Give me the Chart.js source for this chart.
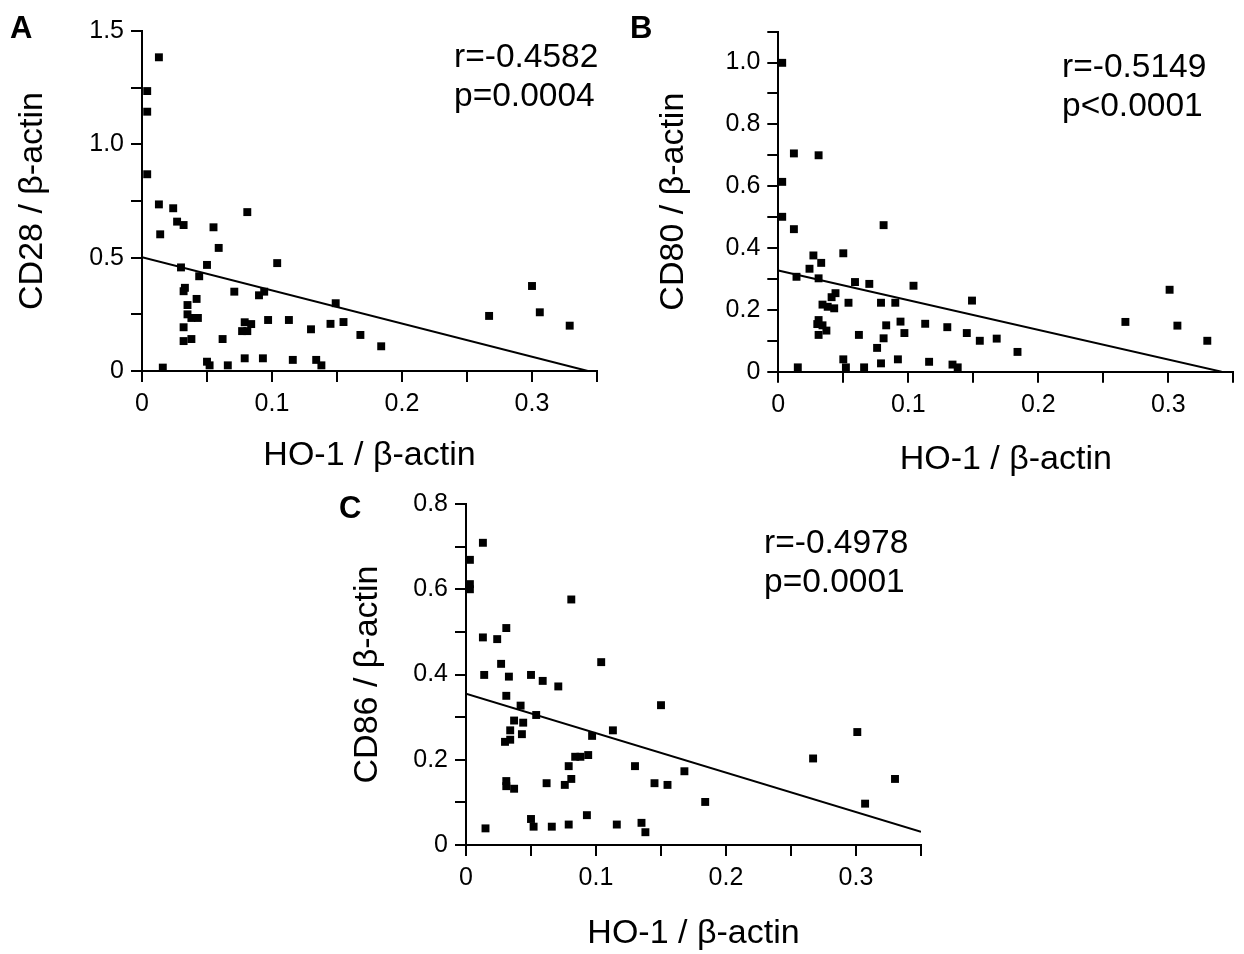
<!DOCTYPE html>
<html>
<head>
<meta charset="utf-8">
<script src="https://cdn.jsdelivr.net/npm/chart.js@4.4.0/dist/chart.umd.min.js"></script>
<style>
  body { margin: 0; background: #fff; width: 1244px; height: 954px; position: relative; overflow: hidden;
         font-family: "Liberation Sans", Arial, sans-serif; color: #000; }
  .panel { position: absolute; }
  .panel canvas { display: block; }
  .lbl { position: absolute; font-weight: bold; font-size: 31px; line-height: 32px; }
  .stat { position: absolute; font-size: 33.5px; line-height: 39px; white-space: nowrap; }
</style>
</head>
<body>
<div class="panel" style="left:0;top:0"><canvas id="chartA" width="620" height="480"></canvas></div>
<div class="panel" style="left:630px;top:0"><canvas id="chartB" width="614" height="480"></canvas></div>
<div class="panel" style="left:330px;top:480px"><canvas id="chartC" width="614" height="474"></canvas></div>

<div class="lbl" style="left:10px;top:12px">A</div>
<div class="lbl" style="left:630px;top:12px">B</div>
<div class="lbl" style="left:339px;top:492px">C</div>

<div class="stat" style="left:454px;top:36px">r=-0.4582<br>p=0.0004</div>
<div class="stat" style="left:1062px;top:46px">r=-0.5149<br>p&lt;0.0001</div>
<div class="stat" style="left:764px;top:522px">r=-0.4978<br>p=0.0001</div>

<script>
// ---- data ----
const aX = [0.013, 0.004, 0.004, 0.004, 0.013, 0.024, 0.081, 0.027, 0.032, 0.014, 0.055, 0.059, 0.104, 0.030,
            0.050, 0.044, 0.071, 0.090, 0.094, 0.033, 0.032, 0.042, 0.035, 0.035, 0.038, 0.043, 0.032, 0.032,
            0.038, 0.062, 0.079, 0.084, 0.077, 0.081, 0.097, 0.113, 0.130, 0.145, 0.016, 0.050, 0.052, 0.066,
            0.079, 0.093, 0.116, 0.134, 0.138, 0.149, 0.155, 0.168, 0.184, 0.267, 0.300, 0.306, 0.329];
const aY = [1.384, 1.235, 1.144, 0.868, 0.735, 0.718, 0.701, 0.659, 0.644, 0.603, 0.634, 0.543, 0.476, 0.457,
            0.468, 0.418, 0.350, 0.334, 0.350, 0.367, 0.352, 0.318, 0.291, 0.250, 0.234, 0.234, 0.193, 0.132,
            0.141, 0.141, 0.215, 0.207, 0.176, 0.176, 0.225, 0.225, 0.184, 0.208, 0.015, 0.041, 0.025, 0.025,
            0.056, 0.056, 0.049, 0.049, 0.025, 0.299, 0.216, 0.159, 0.109, 0.243, 0.375, 0.259, 0.200];

const bX = [0.003, 0.012, 0.031, 0.003, 0.003, 0.012, 0.081, 0.027, 0.033, 0.050, 0.024, 0.014, 0.031, 0.059,
            0.070, 0.104, 0.044, 0.041, 0.054, 0.079, 0.090, 0.034, 0.038, 0.043, 0.149, 0.031, 0.030, 0.034,
            0.037, 0.031, 0.094, 0.083, 0.113, 0.130, 0.097, 0.145, 0.062, 0.081, 0.076, 0.050, 0.092, 0.079,
            0.116, 0.134, 0.138, 0.015, 0.052, 0.066, 0.155, 0.168, 0.184, 0.267, 0.301, 0.307, 0.330];
const bY = [0.999, 0.706, 0.700, 0.614, 0.501, 0.461, 0.474, 0.376, 0.352, 0.383, 0.333, 0.307, 0.302, 0.290,
            0.284, 0.278, 0.254, 0.241, 0.223, 0.223, 0.223, 0.217, 0.210, 0.205, 0.230, 0.167, 0.154, 0.150,
            0.133, 0.119, 0.162, 0.150, 0.155, 0.144, 0.125, 0.125, 0.119, 0.108, 0.077, 0.040, 0.040, 0.027,
            0.032, 0.023, 0.014, 0.014, 0.014, 0.014, 0.100, 0.107, 0.064, 0.161, 0.265, 0.149, 0.100];

const cX = [0.013, 0.003, 0.003, 0.003, 0.081, 0.031, 0.013, 0.024, 0.027, 0.104, 0.014, 0.033, 0.050, 0.059,
            0.071, 0.031, 0.042, 0.054, 0.037, 0.044, 0.034, 0.043, 0.034, 0.030, 0.097, 0.113, 0.084, 0.088,
            0.094, 0.079, 0.130, 0.031, 0.031, 0.037, 0.062, 0.081, 0.076, 0.145, 0.050, 0.052, 0.015, 0.066,
            0.079, 0.093, 0.116, 0.135, 0.138, 0.150, 0.155, 0.168, 0.184, 0.267, 0.301, 0.307, 0.330];
const cY = [0.709, 0.669, 0.612, 0.600, 0.576, 0.509, 0.487, 0.483, 0.425, 0.429, 0.399, 0.395, 0.399, 0.385,
            0.372, 0.350, 0.327, 0.305, 0.292, 0.287, 0.269, 0.260, 0.247, 0.242, 0.256, 0.269, 0.207, 0.207,
            0.211, 0.185, 0.185, 0.150, 0.138, 0.132, 0.145, 0.155, 0.141, 0.145, 0.061, 0.043, 0.039, 0.043,
            0.048, 0.070, 0.048, 0.052, 0.030, 0.328, 0.141, 0.173, 0.101, 0.203, 0.265, 0.097, 0.155];

// regression line end points [x, y]
const fitA = [[0, 0.502], [0.343, 0]];
const fitB = [[0, 0.327], [0.341, 0]];
const fitC = [[0, 0.355], [0.35, 0.031]];

// ticks (labels only on major ones)
const xTicks = [0, 0.05, 0.1, 0.15, 0.2, 0.25, 0.3, 0.35];
const xTickLabels = ['0', '', '0.1', '', '0.2', '', '0.3', ''];
const yTicksA = [0, 0.25, 0.5, 0.75, 1.0, 1.25, 1.5];
const yTickLabelsA = ['0', '', '0.5', '', '1.0', '', '1.5'];
const yTicksB = [0, 0.1, 0.2, 0.3, 0.4, 0.5, 0.6, 0.7, 0.8, 0.9, 1.0, 1.1];
const yTickLabelsB = ['0', '', '0.2', '', '0.4', '', '0.6', '', '0.8', '', '1.0', ''];
const yTicksC = [0, 0.1, 0.2, 0.3, 0.4, 0.5, 0.6, 0.7, 0.8];
const yTickLabelsC = ['0', '', '0.2', '', '0.4', '', '0.6', '', '0.8'];

const xTitle = 'HO-1 / β-actin';

Chart.defaults.font.family = '"Liberation Sans", Arial, sans-serif';
Chart.defaults.color = '#000';

function axis(ticks, labels, min, max, title, titlePad, fit) {
    return {
        type: 'linear',
        min: min,
        max: max,
        afterBuildTicks: function (s) { s.ticks = ticks.map(v => ({ value: v })); },
        afterFit: fit,
        ticks: {
            autoSkip: false,
            maxRotation: 0,
            padding: 7,
            font: { size: 25 },
            callback: (v, i) => labels[i],
        },
        grid: { drawOnChartArea: false, drawTicks: true, tickLength: 11, color: '#000', lineWidth: 2 },
        border: { display: true, color: '#000', width: 2 },
        title: { display: true, text: title, font: { size: 34 }, padding: titlePad },
    };
}

function dibujarPanel(id, xs, ys, fit, yTicks, yLabels, yMax, yTitle, g) {
    const canvas = document.getElementById(id);
    new Chart(canvas, {
        data: {
            datasets: [
                {
                    type: 'scatter',
                    data: xs.map((x, i) => ({ x: x, y: ys[i] })),
                    backgroundColor: '#000',
                    borderWidth: 0,
                    pointStyle: 'rect',
                    pointRadius: 5.6,
                    clip: false,
                },
                {
                    type: 'line',
                    data: fit.map(p => ({ x: p[0], y: p[1] })),
                    borderColor: '#000',
                    borderWidth: 2,
                    pointRadius: 0,
                    fill: false,
                },
            ],
        },
        options: {
            responsive: false,
            animation: false,
            devicePixelRatio: 1,
            layout: { padding: { left: 0, top: g.top, right: g.right, bottom: 0 } },
            plugins: { legend: { display: false }, tooltip: { enabled: false } },
            scales: {
                x: axis(xTicks, xTickLabels, 0, 0.35, xTitle, { top: 0, bottom: g.xTitlePad },
                        s => { s.height = g.xHeight; }),
                y: axis(yTicks, yLabels, 0, yMax, yTitle, { top: g.yTitlePad, bottom: 0 },
                        s => { s.width = g.yWidth; }),
            },
        },
    });
}

dibujarPanel('chartA', aX, aY, fitA, yTicksA, yTickLabelsA, 1.5, 'CD28 / β-actin',
    { top: 31, right: 23, yWidth: 142, xHeight: 109, yTitlePad: 12, xTitlePad: 4 });
dibujarPanel('chartB', bX, bY, fitB, yTicksB, yTickLabelsB, 1.1, 'CD80 / β-actin',
    { top: 31.6, right: 10.7, yWidth: 148.3, xHeight: 108.3, yTitlePad: 23, xTitlePad: 0 });
dibujarPanel('chartC', cX, cY, fitC, yTicksC, yTickLabelsC, 0.8, 'CD86 / β-actin',
    { top: 24, right: 23, yWidth: 136, xHeight: 109, yTitlePad: 17, xTitlePad: 0 });
</script>
</body>
</html>
